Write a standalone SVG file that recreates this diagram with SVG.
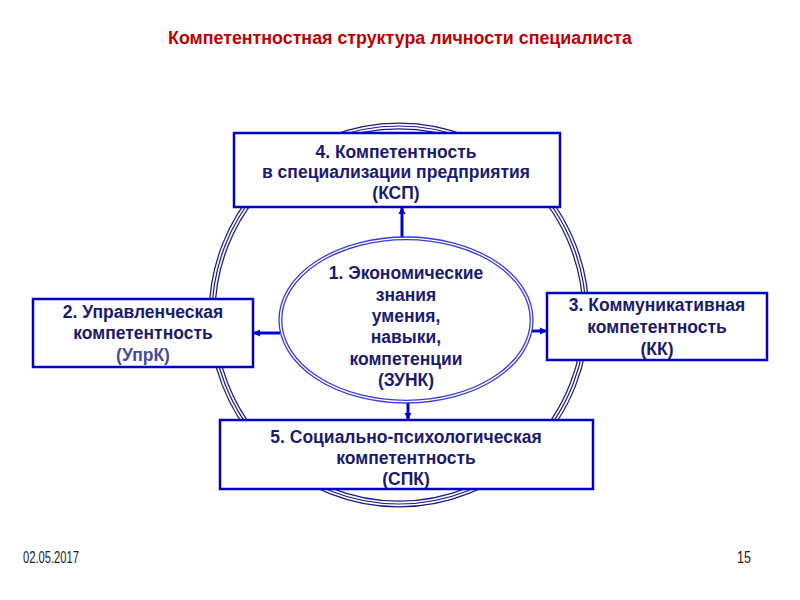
<svg xmlns="http://www.w3.org/2000/svg" width="800" height="600" viewBox="0 0 800 600">
<defs>
<style>
.t{font-family:"Liberation Sans",Arial,sans-serif;font-weight:bold;font-size:17.5px;fill:#1a1a6e;text-anchor:middle}
.box{fill:#fff;stroke:#0000c8;stroke-width:2.5}
.con{stroke:#0000d0;stroke-width:3;fill:none}
.ah{fill:#0000d0}
.el{fill:none;stroke:#3a3ad8;stroke-width:1.3}
</style>
<marker id="arr" markerWidth="8" markerHeight="8" refX="6" refY="4" orient="auto" markerUnits="userSpaceOnUse">
<path d="M0,0.5 L7,4 L0,7.5 Z" class="ah"/>
</marker>
</defs>
<rect width="800" height="600" fill="#fff"/>
<text x="400" y="44" font-family="Liberation Sans,Arial,sans-serif" font-weight="bold" font-size="17.5" fill="#c00000" text-anchor="middle" textLength="464" lengthAdjust="spacingAndGlyphs">Компетентностная структура личности специалиста</text>

<g id="outer-circle">
<ellipse cx="399" cy="315" rx="187" ry="189" fill="none" stroke="#1a1a80" stroke-width="7"/>
<ellipse cx="399" cy="315" rx="187" ry="189" fill="none" stroke="#fff" stroke-width="4.5"/>
<ellipse cx="399" cy="315" rx="187" ry="189" fill="none" stroke="#1a1a80" stroke-width="1.2"/>
</g>

<g id="connectors">
<line class="con" x1="402" y1="238" x2="402" y2="208" marker-end="url(#arr)"/>
<line class="con" x1="280" y1="333" x2="254" y2="333" marker-end="url(#arr)"/>
<line class="con" x1="532" y1="331" x2="546" y2="331" marker-end="url(#arr)"/>
<line class="con" x1="408" y1="402" x2="408" y2="419" marker-end="url(#arr)"/>
</g>

<g id="node1">
<ellipse cx="406" cy="320" rx="127" ry="83" fill="#fff" class="el" style="fill:#fff"/>
<ellipse cx="406" cy="320" rx="124.3" ry="80.3" class="el"/>
<text class="t" x="406" y="279">1. Экономические</text>
<text class="t" x="406" y="301">знания</text>
<text class="t" x="406" y="322">умения,</text>
<text class="t" x="406" y="343">навыки,</text>
<text class="t" x="406" y="365">компетенции</text>
<text class="t" x="406" y="386">(ЗУНК)</text>
</g>

<g id="node4">
<rect class="box" x="234" y="133" width="326" height="74"/>
<text class="t" x="396" y="158">4. Компетентность</text>
<text class="t" x="396" y="178">в специализации предприятия</text>
<text class="t" x="396" y="199">(КСП)</text>
</g>

<g id="node2">
<rect class="box" x="33" y="299" width="220" height="68"/>
<text class="t" x="143" y="318">2. Управленческая</text>
<text class="t" x="143" y="339">компетентность</text>
<text class="t" x="143" y="361" style="fill:#4a4a9a">(УпрК)</text>
</g>

<g id="node3">
<rect class="box" x="547" y="293" width="220" height="67"/>
<text class="t" x="657" y="311">3. Коммуникативная</text>
<text class="t" x="657" y="333">компетентность</text>
<text class="t" x="657" y="355">(КК)</text>
</g>

<g id="node5">
<rect class="box" x="220" y="420" width="373" height="69"/>
<text class="t" x="406" y="443">5. Социально-психологическая</text>
<text class="t" x="406" y="464">компетентность</text>
<text class="t" x="406" y="485">(СПК)</text>
</g>

<text x="23" y="563" font-family="Liberation Sans,Arial,sans-serif" font-size="16" fill="#222" textLength="56" lengthAdjust="spacingAndGlyphs">02.05.2017</text>
<text x="737" y="563" font-family="Liberation Sans,Arial,sans-serif" font-size="16" fill="#222" textLength="14" lengthAdjust="spacingAndGlyphs">15</text>
</svg>
